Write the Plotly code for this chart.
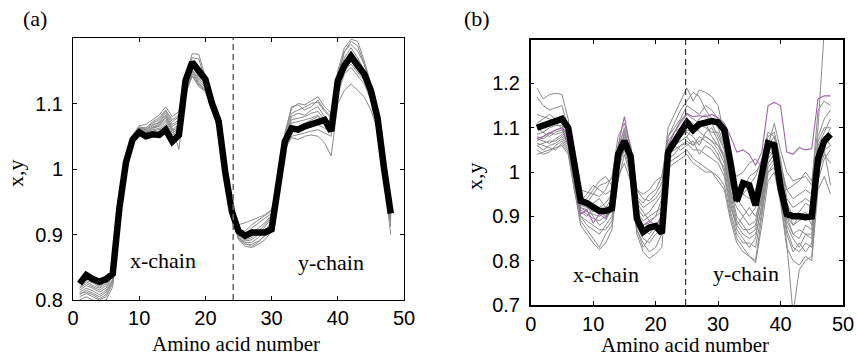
import plotly.graph_objects as go

# ---------------- data ----------------
amino = [1, 2, 3, 4, 5, 6, 7, 8, 9, 10, 11, 12,
         13, 14, 15, 16, 17, 18, 19, 20, 21, 22, 23, 24,
         25, 26, 27, 28, 29, 30, 31, 32, 33, 34, 35, 36,
         37, 38, 39, 40, 41, 42, 43, 44, 45, 46, 47, 48]

# panel (a): mean curve
mean_a = [0.825, 0.838, 0.832, 0.828, 0.832, 0.840, 0.940, 1.010, 1.045, 1.056, 1.050, 1.053,
          1.052, 1.060, 1.042, 1.052, 1.135, 1.163, 1.150, 1.137, 1.100, 1.073, 0.995, 0.935,
          0.905, 0.898, 0.903, 0.902, 0.903, 0.908, 0.970, 1.042, 1.062, 1.060, 1.065, 1.068,
          1.070, 1.075, 1.058, 1.135, 1.158, 1.172, 1.158, 1.145, 1.120, 1.078, 1.000, 0.932]

# panel (a): individual curves
a_run1 = [0.830, 0.835, 0.828, 0.822, 0.830, 0.848, 0.950, 1.012, 1.052, 1.066, 1.068, 1.075,
          1.082, 1.095, 1.080, 1.088, 1.140, 1.176, 1.175, 1.140, 1.105, 1.075, 0.998, 0.935,
          0.915, 0.918, 0.922, 0.925, 0.930, 0.938, 0.980, 1.055, 1.092, 1.100, 1.098, 1.104,
          1.110, 1.095, 1.085, 1.150, 1.185, 1.198, 1.195, 1.165, 1.130, 1.090, 1.005, 0.935]
a_run2 = [0.815, 0.822, 0.818, 0.812, 0.818, 0.838, 0.945, 1.010, 1.050, 1.064, 1.063, 1.070,
          1.075, 1.088, 1.072, 1.080, 1.128, 1.158, 1.140, 1.132, 1.100, 1.070, 0.995, 0.932,
          0.905, 0.900, 0.910, 0.918, 0.925, 0.932, 0.978, 1.050, 1.085, 1.090, 1.094, 1.100,
          1.102, 1.088, 1.078, 1.145, 1.180, 1.190, 1.180, 1.160, 1.125, 1.085, 1.000, 0.930]
a_run3 = [0.808, 0.815, 0.810, 0.805, 0.812, 0.830, 0.940, 1.006, 1.047, 1.062, 1.060, 1.068,
          1.070, 1.082, 1.065, 1.072, 1.125, 1.152, 1.138, 1.128, 1.098, 1.068, 0.993, 0.930,
          0.900, 0.895, 0.898, 0.910, 0.918, 0.930, 0.972, 1.045, 1.080, 1.085, 1.082, 1.090,
          1.095, 1.080, 1.070, 1.130, 1.170, 1.185, 1.170, 1.150, 1.118, 1.080, 0.998, 0.928]
a_run4 = [0.820, 0.828, 0.822, 0.818, 0.825, 0.842, 0.948, 1.008, 1.048, 1.061, 1.058, 1.064,
          1.068, 1.078, 1.060, 1.068, 1.122, 1.150, 1.135, 1.125, 1.095, 1.066, 0.992, 0.932,
          0.898, 0.890, 0.892, 0.900, 0.912, 0.925, 0.970, 1.040, 1.075, 1.078, 1.080, 1.085,
          1.088, 1.075, 1.072, 1.128, 1.160, 1.175, 1.160, 1.145, 1.115, 1.078, 0.995, 0.925]
a_run5 = [0.805, 0.810, 0.805, 0.800, 0.805, 0.825, 0.938, 1.004, 1.044, 1.058, 1.056, 1.062,
          1.065, 1.075, 1.058, 1.065, 1.120, 1.148, 1.132, 1.122, 1.093, 1.064, 0.990, 0.930,
          0.895, 0.888, 0.888, 0.895, 0.905, 0.920, 0.968, 1.038, 1.070, 1.072, 1.075, 1.078,
          1.082, 1.070, 1.065, 1.125, 1.155, 1.168, 1.155, 1.140, 1.112, 1.075, 0.993, 0.922]
a_run6 = [0.812, 0.818, 0.814, 0.808, 0.815, 0.832, 0.942, 1.005, 1.046, 1.060, 1.055, 1.060,
          1.062, 1.072, 1.055, 1.062, 1.118, 1.145, 1.130, 1.120, 1.092, 1.062, 0.990, 0.928,
          0.893, 0.885, 0.885, 0.890, 0.898, 0.912, 0.964, 1.035, 1.058, 1.058, 1.062, 1.065,
          1.068, 1.062, 1.058, 1.120, 1.150, 1.160, 1.148, 1.135, 1.108, 1.072, 0.990, 0.918]
a_run7 = [0.800, 0.805, 0.800, 0.798, 0.800, 0.820, 0.935, 1.002, 1.042, 1.056, 1.054, 1.058,
          1.060, 1.068, 1.052, 1.060, 1.115, 1.142, 1.128, 1.118, 1.090, 1.060, 0.988, 0.928,
          0.892, 0.882, 0.880, 0.885, 0.892, 0.905, 0.960, 1.030, 1.050, 1.052, 1.055, 1.058,
          1.060, 1.055, 1.050, 1.115, 1.145, 1.155, 1.142, 1.130, 1.105, 1.068, 0.988, 0.912]
a_run8 = [0.825, 0.830, 0.826, 0.820, 0.828, 0.845, 0.950, 1.010, 1.050, 1.063, 1.060, 1.066,
          1.072, 1.085, 1.068, 1.075, 1.130, 1.160, 1.145, 1.130, 1.100, 1.070, 0.995, 0.932,
          0.902, 0.892, 0.895, 0.905, 0.915, 0.928, 0.972, 1.042, 1.060, 1.065, 1.070, 1.075,
          1.080, 1.072, 1.060, 1.128, 1.165, 1.180, 1.165, 1.148, 1.120, 1.082, 0.998, 0.928]
a_run9 = [0.810, 0.812, 0.808, 0.802, 0.808, 0.828, 0.940, 1.005, 1.045, 1.059, 1.057, 1.063,
          1.066, 1.080, 1.062, 1.030, 1.115, 1.142, 1.126, 1.118, 1.090, 1.058, 0.988, 0.928,
          0.896, 0.886, 0.882, 0.888, 0.900, 0.915, 0.962, 1.030, 1.048, 1.045, 1.050, 1.052,
          1.050, 1.040, 1.020, 1.100, 1.120, 1.130, 1.120, 1.110, 1.090, 1.060, 0.985, 0.900]
a_run10 = [0.818, 0.825, 0.820, 0.815, 0.822, 0.840, 0.945, 1.008, 1.048, 1.062, 1.062, 1.072,
           1.078, 1.090, 1.075, 1.082, 1.135, 1.170, 1.168, 1.135, 1.102, 1.072, 0.996, 0.934,
           0.908, 0.905, 0.915, 0.922, 0.928, 0.936, 0.978, 1.052, 1.095, 1.098, 1.090, 1.095,
           1.105, 1.090, 1.080, 1.140, 1.178, 1.195, 1.188, 1.160, 1.128, 1.088, 1.003, 0.932]

# panel (b): mean curve and highlighted (purple) curve
mean_b = [1.100, 1.105, 1.110, 1.115, 1.120, 1.100, 1.020, 0.935, 0.930, 0.920, 0.912, 0.912,
          0.918, 1.040, 1.070, 1.035, 0.895, 0.865, 0.875, 0.878, 0.862, 1.045, 1.065, 1.090,
          1.112, 1.095, 1.108, 1.113, 1.115, 1.112, 1.095, 1.020, 0.935, 0.975, 0.970, 0.925,
          0.990, 1.065, 1.060, 0.965, 0.905, 0.900, 0.900, 0.898, 0.900, 1.030, 1.070, 1.085]
purple_b = [1.075, 1.080, 1.088, 1.095, 1.100, 1.060, 0.980, 0.905, 0.915, 0.885, 0.905, 0.895,
            0.920, 1.060, 1.125, 1.050, 0.900, 0.880, 0.890, 0.880, 0.900, 1.060, 1.090, 1.115,
            1.132, 1.125, 1.127, 1.125, 1.130, 1.122, 1.110, 1.080, 1.045, 1.050, 1.040, 1.015,
            1.045, 1.150, 1.157, 1.150, 1.045, 1.040, 1.055, 1.050, 1.053, 1.165, 1.172, 1.172]

# panel (b): individual curves
b_run1 = [1.190, 1.165, 1.175, 1.178, 1.175, 1.120, 1.000, 0.960, 0.955, 0.950, 0.945, 0.960,
          0.990, 1.080, 1.110, 1.060, 0.960, 0.940, 0.935, 0.950, 0.975, 1.100, 1.130, 1.160,
          1.190, 1.160, 1.185, 1.180, 1.170, 1.150, 1.080, 1.010, 0.990, 1.000, 1.020, 1.030,
          1.010, 1.060, 1.110, 1.050, 1.000, 0.980, 0.985, 0.990, 0.970, 1.140, 1.160, 1.150]
b_run2 = [1.170, 1.150, 1.140, 1.145, 1.150, 1.100, 0.990, 0.940, 0.930, 0.950, 0.970, 0.975,
          0.985, 1.060, 1.095, 1.040, 0.945, 0.930, 0.950, 0.960, 0.990, 1.080, 1.110, 1.140,
          1.160, 1.180, 1.170, 1.140, 1.120, 1.100, 1.060, 0.980, 0.960, 0.950, 0.970, 0.990,
          1.030, 1.090, 1.080, 1.020, 0.960, 0.940, 0.950, 0.960, 0.950, 1.080, 1.120, 1.140]
b_run3 = [1.080, 1.075, 1.085, 1.095, 1.100, 1.080, 0.980, 0.920, 0.910, 0.905, 0.900, 0.910,
          0.930, 1.040, 1.080, 1.030, 0.900, 0.880, 0.885, 0.900, 0.910, 1.060, 1.075, 1.080,
          1.095, 1.090, 1.100, 1.110, 1.080, 1.060, 1.040, 0.960, 0.900, 0.880, 0.860, 0.870,
          0.950, 1.040, 1.050, 0.980, 0.900, 0.860, 0.850, 0.880, 0.870, 1.040, 1.070, 1.100]
b_run4 = [1.060, 1.065, 1.070, 1.070, 1.080, 1.060, 0.970, 0.900, 0.880, 0.870, 0.860, 0.880,
          0.900, 1.000, 1.060, 1.010, 0.890, 0.860, 0.870, 0.880, 0.890, 1.040, 1.060, 1.050,
          1.060, 1.070, 1.040, 1.060, 1.050, 1.030, 1.010, 0.930, 0.870, 0.850, 0.830, 0.850,
          0.930, 1.020, 1.040, 0.960, 0.870, 0.830, 0.820, 0.840, 0.830, 1.000, 1.050, 1.060]
b_run5 = [1.050, 1.040, 1.045, 1.060, 1.070, 1.050, 0.960, 0.890, 0.870, 0.850, 0.830, 0.860,
          0.880, 0.980, 1.040, 0.990, 0.870, 0.840, 0.820, 0.830, 0.860, 1.020, 1.030, 1.040,
          1.050, 1.030, 1.020, 1.010, 1.000, 0.990, 0.970, 0.900, 0.850, 0.830, 0.810, 0.800,
          0.900, 1.000, 1.020, 0.940, 0.840, 0.680, 0.780, 0.800, 0.810, 0.980, 1.030, 1.050]
b_run6 = [1.070, 1.080, 1.090, 1.085, 1.090, 1.070, 0.975, 0.930, 0.940, 0.960, 0.980, 0.990,
          0.970, 1.020, 1.070, 1.020, 0.920, 0.900, 0.910, 0.930, 0.950, 1.050, 1.060, 1.070,
          1.080, 1.100, 1.120, 1.130, 1.110, 1.080, 1.050, 0.990, 0.940, 0.920, 0.900, 0.920,
          0.980, 1.050, 1.060, 1.000, 0.930, 0.900, 0.910, 0.930, 0.920, 1.060, 1.090, 1.120]
b_run7 = [1.100, 1.090, 1.080, 1.090, 1.095, 1.075, 0.985, 0.950, 0.925, 0.900, 0.880, 0.890,
          0.920, 1.030, 1.090, 1.050, 0.960, 0.950, 0.960, 0.980, 0.990, 1.070, 1.090, 1.100,
          1.120, 1.110, 1.090, 1.080, 1.070, 1.050, 1.020, 0.950, 0.920, 0.900, 0.880, 0.890,
          0.960, 1.040, 1.070, 1.010, 0.960, 0.970, 0.980, 1.000, 0.980, 1.100, 1.320, 1.340]
b_run8 = [1.060, 1.050, 1.060, 1.065, 1.075, 1.055, 0.965, 0.910, 0.900, 0.920, 0.910, 0.900,
          0.910, 1.010, 1.050, 1.000, 0.880, 0.850, 0.840, 0.860, 0.870, 1.030, 1.040, 1.060,
          1.070, 1.060, 1.080, 1.070, 1.060, 1.040, 1.000, 0.920, 0.880, 0.860, 0.850, 0.860,
          0.920, 1.010, 1.030, 0.950, 0.880, 0.850, 0.830, 0.860, 0.850, 1.020, 1.060, 1.080]
b_run9 = [1.040, 1.045, 1.050, 1.055, 1.060, 1.040, 0.955, 0.880, 0.860, 0.840, 0.825, 0.840,
          0.870, 0.990, 1.020, 0.980, 0.860, 0.820, 0.805, 0.815, 0.830, 1.010, 1.020, 1.030,
          1.040, 1.020, 1.010, 1.000, 1.000, 0.980, 0.960, 0.890, 0.840, 0.820, 0.810, 0.795,
          0.880, 0.980, 1.000, 0.930, 0.830, 0.800, 0.790, 0.810, 0.800, 0.960, 0.990, 0.950]
b_run10 = [1.110, 1.120, 1.130, 1.120, 1.110, 1.090, 0.990, 0.935, 0.950, 0.970, 0.960, 0.950,
           0.960, 1.050, 1.100, 1.060, 0.940, 0.920, 0.930, 0.940, 0.960, 1.080, 1.100, 1.120,
           1.150, 1.140, 1.130, 1.150, 1.140, 1.120, 1.070, 0.970, 0.940, 0.960, 0.990, 1.000,
           1.020, 1.080, 1.090, 1.030, 0.940, 0.920, 0.930, 0.940, 0.930, 1.050, 1.080, 1.060]
b_run11 = [1.075, 1.070, 1.065, 1.075, 1.085, 1.065, 0.970, 0.920, 0.915, 0.930, 0.940, 0.920,
           0.940, 1.030, 1.075, 1.040, 0.910, 0.890, 0.900, 0.910, 0.920, 1.050, 1.070, 1.080,
           1.090, 1.080, 1.060, 1.090, 1.100, 1.070, 1.030, 0.940, 0.880, 0.900, 0.920, 0.900,
           0.940, 1.030, 1.050, 0.990, 0.900, 0.880, 0.890, 0.900, 0.900, 1.030, 1.060, 1.090]
b_run12 = [1.065, 1.060, 1.055, 1.050, 1.065, 1.045, 0.960, 0.900, 0.890, 0.880, 0.870, 0.870,
           0.890, 1.000, 1.065, 1.020, 0.870, 0.830, 0.850, 0.870, 0.880, 1.040, 1.050, 1.060,
           1.065, 1.050, 1.050, 1.040, 1.030, 1.020, 0.990, 0.910, 0.860, 0.840, 0.840, 0.830,
           0.910, 1.000, 1.010, 0.950, 0.860, 0.820, 0.840, 0.820, 0.840, 1.000, 1.040, 1.020]
b_run13 = [1.130, 1.125, 1.120, 1.110, 1.100, 1.085, 0.980, 0.925, 0.920, 0.910, 0.920, 0.930,
           0.950, 1.040, 1.085, 1.045, 0.930, 0.910, 0.890, 0.900, 0.940, 1.060, 1.090, 1.110,
           1.130, 1.120, 1.110, 1.100, 1.090, 1.090, 1.050, 0.970, 0.930, 0.950, 0.940, 0.960,
           1.000, 1.060, 1.080, 1.020, 0.920, 0.880, 0.900, 0.910, 0.880, 1.070, 1.100, 1.100]
b_run14 = [1.085, 1.090, 1.100, 1.105, 1.105, 1.080, 0.975, 0.915, 0.905, 0.895, 0.890, 0.900,
           0.925, 1.020, 1.070, 1.030, 0.900, 0.870, 0.860, 0.880, 0.900, 1.050, 1.065, 1.070,
           1.080, 1.060, 1.070, 1.080, 1.070, 1.060, 1.030, 0.950, 0.890, 0.870, 0.870, 0.880,
           0.940, 1.020, 1.040, 0.970, 0.890, 0.860, 0.870, 0.860, 0.860, 1.020, 1.050, 0.970]

runs_a = [a_run1, a_run2, a_run3, a_run4, a_run5, a_run6, a_run7, a_run8, a_run9, a_run10]
runs_b = [b_run1, b_run2, b_run3, b_run4, b_run5, b_run6, b_run7,
          b_run8, b_run9, b_run10, b_run11, b_run12, b_run13, b_run14]

split_a = 24.2   # chain boundary, panel (a)
split_b = 24.8   # chain boundary, panel (b)

yticks_a = [0.8, 0.9, 1.0, 1.1]
yticklabels_a = ["0.8", "0.9", "1", "1.1"]
yticks_b = [0.7, 0.8, 0.9, 1.0, 1.1, 1.2]
yticklabels_b = ["0.7", "0.8", "0.9", "1", "1.1", "1.2"]
xticks = [0, 10, 20, 30, 40, 50]

# ---------------- figure ----------------
GRAY = "#8a8a8a"
PURPLE = "#a064a8"
SANS = "Liberation Sans"
SERIF = "Liberation Serif"
W, H = 857, 359

fig = go.Figure()

for r in runs_a:
    fig.add_trace(go.Scatter(x=amino, y=r, mode="lines", xaxis="x", yaxis="y",
                             line=dict(color=GRAY, width=1), showlegend=False, hoverinfo="skip"))
fig.add_trace(go.Scatter(x=amino, y=mean_a, mode="lines", xaxis="x", yaxis="y",
                         line=dict(color="black", width=6.5), showlegend=False))

for r in runs_b:
    fig.add_trace(go.Scatter(x=amino, y=r, mode="lines", xaxis="x2", yaxis="y2",
                             line=dict(color=GRAY, width=1), showlegend=False, hoverinfo="skip"))
fig.add_trace(go.Scatter(x=amino, y=purple_b, mode="lines", xaxis="x2", yaxis="y2",
                         line=dict(color=PURPLE, width=1.1), showlegend=False))
fig.add_trace(go.Scatter(x=amino, y=mean_b, mode="lines", xaxis="x2", yaxis="y2",
                         line=dict(color="black", width=6.5), showlegend=False))


def px_x(p):
    return p / W


def px_y(p):
    return 1 - p / H


axis_common = dict(showgrid=False, zeroline=False, showline=True, linecolor="black",
                   mirror="ticks", ticks="inside", tickcolor="black", ticklen=4,
                   automargin=False,
                   tickfont=dict(family=SANS, size=20, color="black"))

fig.update_layout(
    width=W, height=H, autosize=False,
    margin=dict(l=0, r=0, t=0, b=0, pad=0),
    paper_bgcolor="white", plot_bgcolor="white",
    xaxis=dict(domain=[px_x(73), px_x(404)], range=[0, 50], tickvals=xticks,
               anchor="y", linewidth=1, **axis_common),
    yaxis=dict(domain=[px_y(300), px_y(38)], range=[0.8, 1.2], tickvals=yticks_a,
               ticktext=yticklabels_a, anchor="x", linewidth=1, ticklabelstandoff=5,
               **axis_common),
    xaxis2=dict(domain=[px_x(530.7), px_x(843)], range=[0, 50], tickvals=xticks,
                anchor="y2", linewidth=1.5, **axis_common),
    yaxis2=dict(domain=[px_y(305), px_y(40)], range=[0.7, 1.298], tickvals=yticks_b,
                ticktext=yticklabels_b, anchor="x2", linewidth=1.5, ticklabelstandoff=5,
                **axis_common),
)

fig.add_shape(type="line", xref="x", yref="y domain", x0=split_a, x1=split_a, y0=0, y1=1,
              line=dict(color="#666666", width=1.5, dash="6px,4px"))
fig.add_shape(type="line", xref="x2", yref="y2 domain", x0=split_b, x1=split_b, y0=0, y1=1,
              line=dict(color="#333333", width=1.2, dash="6px,4px"))

serif_font = dict(family=SERIF, size=22, color="black")
title_font = dict(family=SERIF, size=21, color="black")
annots = [
    dict(text="(a)", xref="paper", yref="paper", x=px_x(35), y=px_y(18)),
    dict(text="(b)", xref="paper", yref="paper", x=px_x(477), y=px_y(18)),
    dict(text="Amino acid number", xref="paper", yref="paper", x=px_x(236), y=px_y(344),
         font=title_font),
    dict(text="Amino acid number", xref="paper", yref="paper", x=px_x(685), y=px_y(345),
         font=title_font),
    dict(text="x,y", xref="paper", yref="paper", x=px_x(15), y=px_y(173), textangle=-90),
    dict(text="x,y", xref="paper", yref="paper", x=px_x(475), y=px_y(176), textangle=-90),
    dict(text="x-chain", xref="x", yref="y", x=13.6, y=0.861),
    dict(text="y-chain", xref="x", yref="y", x=39.0, y=0.858),
    dict(text="x-chain", xref="x2", yref="y2", x=12.1, y=0.768),
    dict(text="y-chain", xref="x2", yref="y2", x=34.4, y=0.770),
]
for a in annots:
    a.setdefault("font", serif_font)
    a.update(showarrow=False, xanchor="center", yanchor="middle")
    fig.add_annotation(**a)

fig.write_html("out.html",
               config={"displayModeBar": False},
               post_script="document.body.style.margin='0';document.body.style.overflow='hidden';")
